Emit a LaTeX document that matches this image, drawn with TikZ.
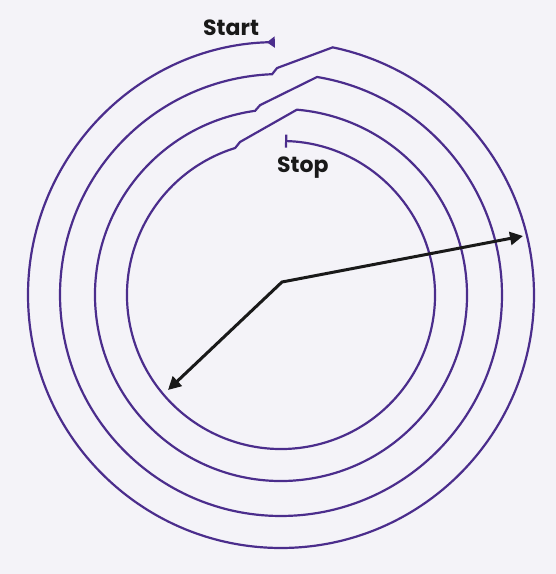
\documentclass[tikz,border=0pt]{standalone}
\usepackage{fontspec}
\newfontfamily\labfont{Poppins}
\usetikzlibrary{arrows.meta}
\definecolor{spiral}{RGB}{75,45,140}
\definecolor{bgc}{RGB}{244,243,248}
\definecolor{ink}{RGB}{25,25,25}
\begin{document}
\begin{tikzpicture}[x=1pt,y=1pt,
  spiralline/.style={draw=spiral,line width=2.2pt,line join=miter},
  radarrow/.style={draw=ink,line width=3pt,line join=miter,
    {Triangle[length=13pt,width=13pt]}-{Triangle[length=13pt,width=13pt]}},
  txtlabel/.style={font=\labfont\bfseries\fontsize{22}{26}\selectfont,text=ink,inner sep=0pt}
]
\fill[bgc] (0,0) rectangle (556,574);
\useasboundingbox (0,0) rectangle (556,574);
\coordinate (c) at (281,279);
\draw[spiralline, {Triangle[reversed,length=8pt,width=11pt]}-{Bar[width=13pt]}]
  ([shift={(91.4:253)}]c) arc[start angle=91.4,end angle=438.2,radius=253]
  -- ([shift={(91:227)}]c) -- ([shift={(92.3:221)}]c)
  arc[start angle=92.3,end angle=440.6,radius=221]
  -- ([shift={(96.3:191)}]c) -- ([shift={(98:186)}]c)
  arc[start angle=98,end angle=445.1,radius=186]
  -- ([shift={(105:158.4)}]c) -- ([shift={(107.3:154)}]c)
  arc[start angle=107.3,end angle=448.5,radius=154];
\coordinate (v) at (282,292);
\coordinate (r1) at (523,338);
\coordinate (r2) at (168,184);
\draw[radarrow] (r2) -- (v) -- (r1);
\node[txtlabel,anchor=base west] (start) at (203,538) {Start};
\node[txtlabel,anchor=base west] (stop) at (277,401) {Stop};
\end{tikzpicture}
\end{document}
